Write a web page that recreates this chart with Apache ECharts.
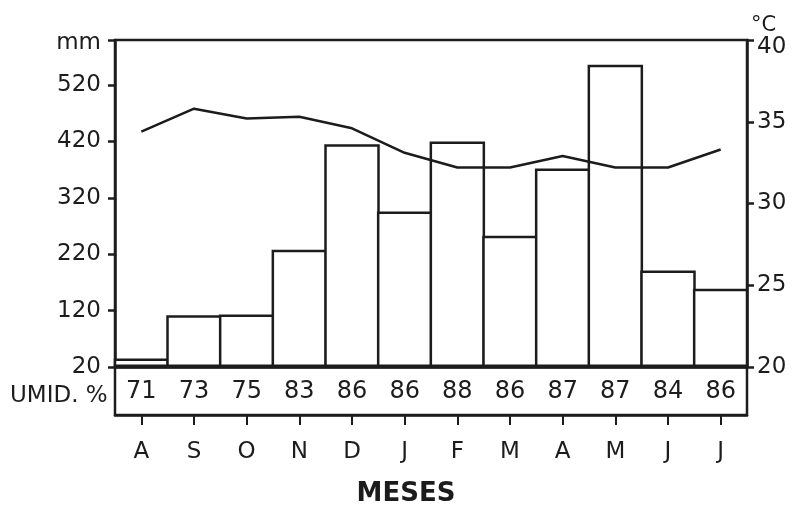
<!DOCTYPE html>
<html><head><meta charset="utf-8">
<script src="https://cdn.jsdelivr.net/npm/echarts@6/dist/echarts.min.js"></script>
<style>html,body{margin:0;background:#fff}#c{width:802px;height:505px}</style>
</head><body><div id="c"></div>
<script>
const months = ['A','S','O','N','D','J','F','M','A','M','J','J'];
const rainfall = [35, 112, 113, 228, 415, 296, 420, 253, 372, 556, 191, 159];
const temperature = [34.4, 35.8, 35.2, 35.3, 34.6, 33.1, 32.2, 32.2, 32.9, 32.2, 32.2, 33.3];
const humidity = [71, 73, 75, 83, 86, 86, 88, 86, 87, 87, 84, 86];
const rainMin = 20, rainMax = 600, rainStep = 100;
const tempMin = 20, tempMax = 40, tempStep = 5;

const ink = '#1c1c1c';
const font = 'DejaVu Sans';
const chart = echarts.init(document.getElementById('c'), null, {renderer: 'canvas'});
chart.setOption({
  animation: false,
  backgroundColor: '#fff',
  textStyle: {fontFamily: font, color: ink},
  graphic: [
    {type: 'text', x: 10, y: 396, style: {text: 'UMID. %', font: '23px "DejaVu Sans"', fill: ink, textVerticalAlign: 'middle', verticalAlign: 'middle'}},
    {type: 'text', x: 406, y: 494, style: {text: 'MESES', font: 'bold 26px "DejaVu Sans"', fill: ink, align: 'center', textAlign: 'center', verticalAlign: 'middle', textVerticalAlign: 'middle'}}
  ],
  grid: [
    {left: 115, right: 55, top: 40, height: 327, containLabel: false, outerBoundsMode: 'none', show: true, borderColor: ink, borderWidth: 2.5, backgroundColor: 'transparent'},
    {left: 115, right: 55, top: 367, height: 48, containLabel: false, outerBoundsMode: 'none', show: true, borderColor: ink, borderWidth: 2.5, backgroundColor: 'transparent'}
  ],
  xAxis: [
    {type: 'category', gridIndex: 0, data: months, boundaryGap: true,
     axisLine: {show: true, lineStyle: {color: ink, width: 2.5}}, axisTick: {show: false},
     axisLabel: {margin: 13, fontSize: 24, color: ink, fontFamily: font, interval: 0, formatter: (v, i) => String(humidity[i])},
     splitLine: {show: false}},
    {type: 'category', gridIndex: 1, data: months, boundaryGap: true,
     axisLine: {show: true, lineStyle: {color: ink, width: 2.5}},
     axisTick: {show: true, alignWithLabel: true, length: 10, lineStyle: {color: ink, width: 2}},
     axisLabel: {margin: 26, fontSize: 23, color: ink, fontFamily: font, interval: 0},
     splitLine: {show: false}}
  ],
  yAxis: [
    {type: 'value', gridIndex: 0, position: 'left', min: 0, max: rainMax - rainMin, interval: rainStep,
     axisLine: {show: true, lineStyle: {color: ink, width: 2.5}},
     axisTick: {show: true, length: 7, lineStyle: {color: ink, width: 2.5}},
     axisLabel: {margin: 14, fontSize: 23, color: ink, fontFamily: font,
       formatter: v => (v >= rainMax - rainMin ? '{mm|mm}' : String(v + rainMin)),
       rich: {mm: {fontSize: 23, fontFamily: font, color: ink, padding: [6, 0, 0, 0]}}},
     splitLine: {show: false}},
    {type: 'value', gridIndex: 0, position: 'right', min: tempMin, max: tempMax, interval: tempStep,
     name: '°C', nameLocation: 'end', nameGap: -2,
     nameTextStyle: {fontSize: 21, color: ink, fontFamily: font, align: 'left', padding: [0, 0, 0, 4]},
     axisLine: {show: true, lineStyle: {color: ink, width: 2.5}},
     axisTick: {show: true, length: 7, lineStyle: {color: ink, width: 2.5}},
     axisLabel: {margin: 10, fontSize: 23, color: ink, fontFamily: font,
       formatter: v => (v >= tempMax ? '{t|' + v + '}' : String(v)),
       rich: {t: {fontSize: 23, fontFamily: font, color: ink, padding: [14, 0, 0, 0]}}},
     splitLine: {show: false}},
    {type: 'value', gridIndex: 1, show: false, min: 0, max: 1}
  ],
  series: [
    {type: 'bar', xAxisIndex: 0, yAxisIndex: 0, barWidth: 55.5, z: 2,
     data: rainfall.map(v => v - rainMin),
     itemStyle: {color: '#fff', borderColor: ink, borderWidth: 2.5}},
    {type: 'line', xAxisIndex: 0, yAxisIndex: 1, z: 5, symbol: 'none', smooth: false,
     data: temperature, lineStyle: {color: ink, width: 2.5}}
  ]
});
</script></body></html>
